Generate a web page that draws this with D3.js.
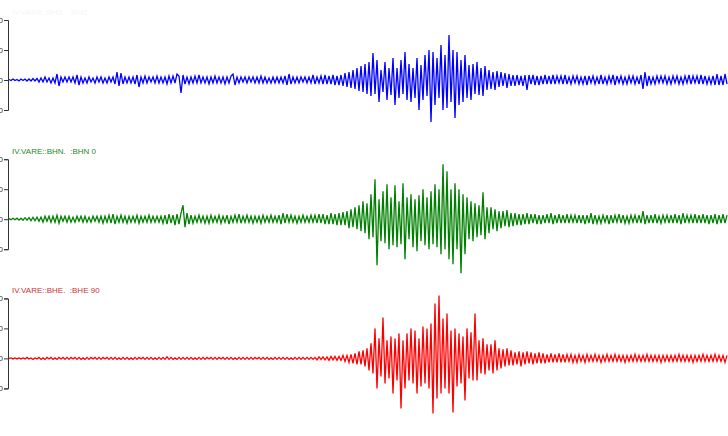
<!DOCTYPE html>
<html>
<head>
<meta charset="utf-8">
<script src="https://cdn.jsdelivr.net/npm/d3@7"></script>
<style>
  html, body { margin: 0; padding: 0; background: #ffffff; overflow: hidden; }
  .tick text { font-family: "Liberation Sans", Arial, sans-serif; font-size: 8px; fill: #333; }
  .axis path, .axis line { stroke: #333; }
  .trace { fill: none; stroke-width: 1.3; stroke-linejoin: miter; }
  .label { font-family: "Liberation Sans", Arial, sans-serif; font-size: 8px; white-space: pre; }
</style>
</head>
<body>
<svg id="chart" width="728" height="436"></svg>
<script>
// 通道名稱與顏色
const channelLabels = ["IV.VARE::BHZ.  :BHZ", "IV.VARE::BHN.  :BHN 0", "IV.VARE::BHE.  :BHE 90"];
const channelColors = ["#0000ff", "#008000", "#ff0000"];
const labelColors = ["#f6f6f6", "#1f8a1f", "#cc3333"];

// 縱軸刻度 (每個面板相同)
const yTicks = [60, 30, 0, -30];

// 波形: 每 2px 一個取樣, 每列 15 個 (30px)
const bhz = [
  0.5,-0.5,1,-0.5,0.5,-1,1,-0.5,1,-1,1,-1,1.5,-1,1.5,
  -2,2,-2,3,-2,2,-3,2,-3,6,-6,3,-2,3,-2,
  3,-2,3,-3,5,-5,3,-3,2,-3,3,-2,2,-3,3,
  -2,3,-3,2,-3,3,-2,3,-4,8,-6,7,-4,3,-3,
  3,-3,3,-4,5,-7,3,-3,4,-3,3,-2,3,-3,4,
  -3,3,-3,3,-4,4,-3,4,-3,6,4,-13,5,-4,3,
  -4,3,-3,4,-3,5,-3,3,-3,3,-4,3,-3,4,-3,
  3,-3,3,-4,3,-3,4,6,-5,3,-3,3,-2,3,-3,
  3,-2,3,-3,3,-3,4,-3,3,-3,2,-3,3,-3,3,
  -3,3,-3,4,-5,6,-4,3,-3,3,-3,3,-2,3,-3,
  3,-3,5,-4,3,-3,4,-4,5,-4,4,-4,5,-5,4,
  -5,5,-6,7,-7,8,-8,10,-9,12,-11,14,-12,16,-14,
  18,-16,27,-14,20,-22,10,-12,18,-20,12,-15,22,-25,12,
  -18,20,-14,28,-20,16,-22,12,-18,22,-30,15,-20,25,-16,
  30,-42,28,-25,22,-18,35,-30,25,-28,45,-22,30,-38,28,
  -25,20,-22,25,-18,15,-20,16,-14,18,-15,12,-16,14,-10,
  10,-9,8,-10,9,-7,8,-6,7,-8,6,-6,5,-6,5,
  -5,4,-6,5,-10,5,-4,5,-5,4,-5,4,-4,5,-4,
  4,-4,5,-4,4,-3,4,-4,5,-4,3,-4,4,-3,4,
  -4,3,-4,4,-5,4,-3,4,-4,3,-4,5,-4,3,-4,
  4,-3,5,-5,4,-3,4,-4,3,-4,4,-3,4,-4,3,
  -4,5,-9,8,-6,4,-4,3,-4,4,-3,4,-3,4,-4,
  3,-4,4,-3,4,-4,3,-4,4,-3,5,-4,4,-3,4,
  -4,5,-4,4,-4,3,-4,4,-5,6,-5,4,-5,6,-4
];
const bhn = [
  0.5,-0.5,1,-0.5,1,-1,1,-1,1.5,-1,1.5,-1.5,2,-1.5,2,
  -2,2,-3,3,-2,3,-3,3,-3,4,-4,3,-2,3,-3,
  3,-3,2,-3,3,-2,3,-3,3,-3,2,-3,3,-2,3,
  -3,3,-4,3,-3,4,-4,5,-5,3,-3,4,-3,3,-4,
  3,-3,3,-3,4,-4,3,-3,3,-3,4,-3,3,-3,3,
  -3,3,-4,4,-5,5,-4,4,-6,5,-5,6,14,-8,6,
  -5,4,-4,3,-3,4,-3,3,-4,3,-4,4,-3,3,-3,
  4,-4,3,-3,4,-5,3,-3,4,-3,5,-4,3,-3,4,
  -3,3,-4,3,-3,3,-4,4,-3,3,-3,4,-3,3,-3,
  4,-5,6,-4,5,-3,4,-3,3,-4,3,-3,4,-3,3,
  -3,4,-3,4,-4,5,-4,5,-5,4,-5,6,-5,5,-6,
  6,-6,7,-6,8,-9,10,-8,12,-10,14,-12,18,-14,16,
  -20,25,-18,40,-46,20,-22,28,-24,35,-30,22,-26,34,-28,
  18,-25,36,-40,22,-20,25,-28,20,-32,24,-22,30,-26,22,
  -30,28,-25,35,-28,30,-35,55,-30,48,-40,30,-45,36,-30,
  30,-54,25,-35,22,-20,18,-22,16,-18,14,-16,27,-20,12,
  -14,12,-10,10,-12,8,-9,8,-7,9,-8,6,-7,6,-6,
  5,-6,5,-5,6,-5,5,-4,5,-5,4,-5,4,-4,5,
  -4,6,-5,4,-4,5,-4,4,-4,5,-4,4,-3,4,-4,
  4,-4,4,-5,4,-4,6,-5,4,-4,3,-4,4,-3,4,
  -5,4,-4,4,-3,5,-4,4,-4,3,-4,4,-3,4,-4,
  4,-4,8,-5,4,-4,4,-4,5,-4,3,-4,4,-3,4,
  -4,4,-4,5,-4,4,-5,6,-4,4,-3,4,-4,5,-4,
  4,-4,5,-4,4,-5,4,-4,5,-5,4,-4,5,-4,4
];
const bhe = [
  0,0.5,-0.5,0.5,-0.5,0.5,-0.5,0.5,-0.5,1,-0.5,0.5,-1,0.5,-0.5,
  1,-1,0.5,-1,1,-0.5,1,-1,0.5,-1,1,-0.5,1,-1,1,
  -1,1,-0.5,1,-1,1,-1,0.5,-1,1,-1,1,-0.5,1,-1,
  1,-1,1,-0.5,1,-1,1,-1,1,-1,0.5,-1,1,-1,1,
  -1,0.5,-1,1,-1,1,-0.5,1,-1,1,-1,1,-1,0.5,-1,
  1,-1,1,-1,1.5,-1,1,-1,0.5,-1,1,-1,1,-1,1,
  -1,1,-1,0.5,-1,1,-1,1,-1,1,-0.5,1,-1,1,-1,
  1,-0.5,1,-1,1,-1,1,-1,0.5,-1,1,-1,1,-1,1,
  -1,1,-1,1,-0.5,1,-1,1,-1,1,-1,0.5,-1,1,-1,
  1,-1,1,-1,1,-1,0.5,-1,1,-1,1,-1,1,-1,1,
  -1,1,-1,1,-1.5,1.5,-1,1.5,-1.5,1.5,-2,2,-1.5,2,-2,
  2,-2,3,-3,3,-4,4,-5,5,-6,7,-6,8,-8,10,
  -12,15,-15,30,-30,20,-18,41,-25,18,-20,22,-35,20,-22,
  25,-50,18,-30,25,-22,30,-25,28,-35,20,-28,32,-25,30,
  -30,35,-55,55,-40,63,-35,40,-30,45,-35,28,-54,30,-28,
  25,-25,22,-42,30,-20,26,-22,45,-22,18,-15,20,-16,14,
  -12,14,-15,18,-12,10,-10,9,-8,10,-7,8,-7,6,-6,
  7,-8,6,-6,7,-5,6,-6,5,-5,6,-5,5,-5,4,
  -4,5,-4,4,-4,5,-4,4,-4,4,-3,4,-4,3,-4,
  4,-3,3,-4,4,-3,3,-3,4,-3,3,-4,3,-3,4,
  -3,3,-3,4,-3,3,-3,3,-4,3,-3,3,-3,4,-3,
  3,-3,3,-3,4,-3,3,-3,3,-3,3,-4,3,-3,3,
  -3,3,-3,3,-3,4,-3,3,-3,3,-3,3,-4,3,-3,
  3,-3,4,-3,3,-3,3,-3,4,-3,3,-3,3,-4,3
];
const traces = [bhz, bhn, bhe];

// 版面
const axisX = 8;
const panelTop = 20;     // 第一個面板的頂端
const panelStep = 139.2; // 面板間距
const panelHeight = 90;

const svg = d3.select("#chart");

const x = d3.scaleLinear()
    .domain([0, bhz.length - 1])
    .range([9, 727]);

traces.forEach((data, k) => {
    const top = panelTop + panelStep * k;
    const y = d3.scaleLinear()
        .domain([-30, 60])
        .range([top + panelHeight, top]);

    // 縱軸
    svg.append("g")
        .attr("class", "axis")
        .attr("transform", `translate(${axisX},0)`)
        .call(d3.axisLeft(y).tickValues(yTicks).tickSize(4).tickSizeOuter(4).tickPadding(1));

    // 通道標籤
    svg.append("text")
        .attr("class", "label")
        .attr("x", 12)
        .attr("y", top - 5.5)
        .attr("fill", labelColors[k])
        .text(channelLabels[k]);

    // 波形
    const line = d3.line()
        .x((d, i) => x(i))
        .y(d => y(d));

    svg.append("path")
        .datum(data)
        .attr("class", "trace")
        .attr("stroke", channelColors[k])
        .attr("d", line);
});
</script>
</body>
</html>
